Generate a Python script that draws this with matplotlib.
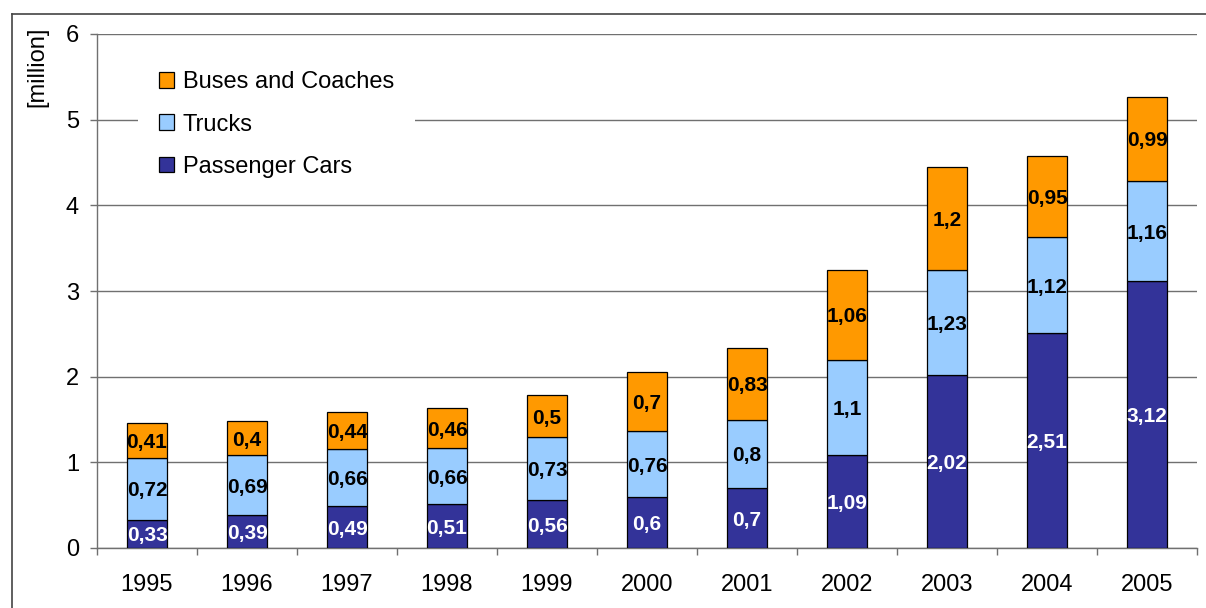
import matplotlib
matplotlib.use("Agg")
import matplotlib.pyplot as plt
from matplotlib.patches import Patch
from matplotlib.lines import Line2D
import numpy as np

plt.rcParams['font.family'] = ['Liberation Sans', 'DejaVu Sans']

years = ["1995", "1996", "1997", "1998", "1999", "2000", "2001", "2002", "2003", "2004", "2005"]
passenger_cars = [0.33, 0.39, 0.49, 0.51, 0.56, 0.6, 0.7, 1.09, 2.02, 2.51, 3.12]
trucks = [0.72, 0.69, 0.66, 0.66, 0.73, 0.76, 0.8, 1.1, 1.23, 1.12, 1.16]
buses = [0.41, 0.4, 0.44, 0.46, 0.5, 0.7, 0.83, 1.06, 1.2, 0.95, 0.99]

series = [
    ("Passenger Cars", passenger_cars, "#333399", "white"),
    ("Trucks", trucks, "#99CCFF", "black"),
    ("Buses and Coaches", buses, "#FF9900", "black"),
]

W, H = 1206, 608
fig = plt.figure(figsize=(W / 100, H / 100), dpi=100)
ax = fig.add_axes([97 / W, 1 - 548 / H, 1100 / W, (548 - 34) / H])

x = np.arange(len(years))
bottom = np.zeros(len(years))
handles = []
for name, vals, color, txtcol in series:
    vals = np.array(vals)
    ax.bar(x, vals, width=0.4, bottom=bottom, color=color,
           edgecolor="black", linewidth=0.9, zorder=3)
    for xi, b, v in zip(x, bottom, vals):
        ax.text(xi, b + v / 2, f"{v:g}".replace(".", ","), ha="center",
                va="center_baseline", fontsize=15, fontweight="bold",
                color=txtcol, zorder=4)
    bottom += vals
    handles.append(Patch(facecolor=color, edgecolor="black", linewidth=0.9,
                         label=name))

ax.set_xlim(-0.5, len(years) - 0.5)
ax.set_ylim(0, 6)
ax.set_yticks(range(7))
ax.yaxis.grid(True, color="#707070", linewidth=1.0, zorder=0)
ax.set_axisbelow(True)

ax.set_xticks(x)
ax.set_xticklabels(years)
ax.set_xticks(np.arange(-0.5, len(years)), minor=True)
ax.tick_params(axis="x", which="major", length=0, pad=19, labelsize=17)
ax.tick_params(axis="x", which="minor", direction="out", length=5,
               color="#707070", width=1.0)
ax.tick_params(axis="y", direction="out", length=5, color="#707070",
               width=1.0, pad=8, labelsize=17)

for s in ("top", "right"):
    ax.spines[s].set_visible(False)
for s in ("left", "bottom"):
    ax.spines[s].set_color("#707070")
    ax.spines[s].set_linewidth(1.0)

leg = ax.legend(handles=handles[::-1], loc="upper left",
                bbox_to_anchor=(41 / 1100, 1 - 16 / 514), frameon=True,
                fancybox=False, framealpha=1, edgecolor="white",
                fontsize=17, handlelength=0.64, handleheight=0.64,
                handletextpad=0.36, labelspacing=0.86, borderpad=0.9,
                borderaxespad=0)
leg.get_frame().set_linewidth(0)
leg.set_zorder(5)

fig.text(37 / W, 1 - 67 / H, "[million]", rotation=90, ha="center",
         va="center", fontsize=17)

# figure frame
fig.add_artist(Line2D([12 / W, 12 / W], [0, 1 - 14 / H], color="#444444",
                      linewidth=1.2, transform=fig.transFigure))
fig.add_artist(Line2D([12 / W, 1], [1 - 14 / H, 1 - 14 / H], color="#444444",
                      linewidth=1.2, transform=fig.transFigure))

fig.savefig("out.png", dpi=100)
